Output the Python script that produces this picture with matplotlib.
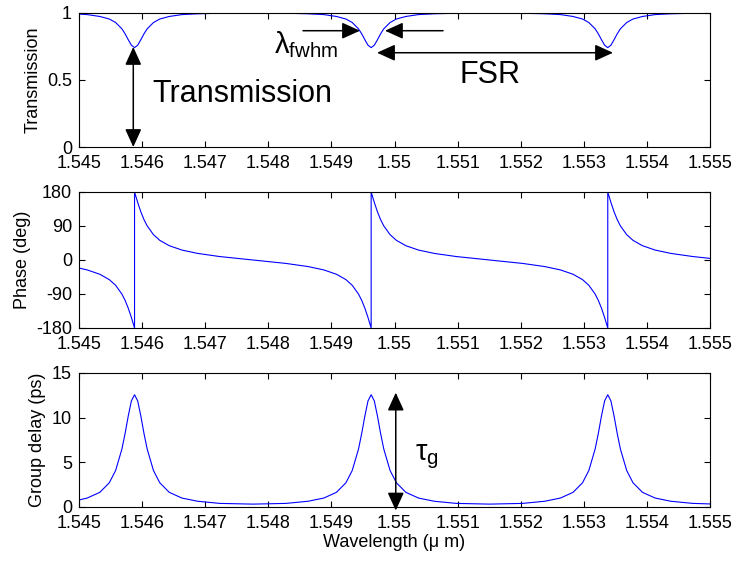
#!/usr/bin/env python3

import matplotlib
matplotlib.use("Agg")
import matplotlib.pyplot as plt


# wavelength samples (um), shared by transmission and group delay
WAVELENGTH = [
    1.54500, 1.54513, 1.54533, 1.54548, 1.54558, 1.54568, 1.54573, 1.54578,
    1.54583, 1.54588, 1.54593, 1.54598, 1.54603, 1.54608, 1.54618, 1.54628,
    1.54643, 1.54663, 1.54688, 1.54723, 1.547755,
    1.54828, 1.54863, 1.54888, 1.54908, 1.54923, 1.54933, 1.54943, 1.54948,
    1.54953, 1.54958, 1.54963, 1.54968, 1.54973, 1.54978, 1.54983, 1.54993,
    1.55003, 1.55018, 1.55038, 1.55063, 1.55098, 1.551505,
    1.55203, 1.55238, 1.55263, 1.55283, 1.55298, 1.55308, 1.55318, 1.55323,
    1.55328, 1.55333, 1.55338, 1.55343, 1.55348, 1.55353, 1.55358, 1.55368,
    1.55378, 1.55393, 1.55413, 1.55438, 1.55473, 1.55500,
]

TRANSMISSION = [
    0.990, 0.986, 0.972, 0.953, 0.927, 0.880, 0.843, 0.799,
    0.758, 0.740, 0.758, 0.799, 0.843, 0.880, 0.927, 0.953,
    0.972, 0.986, 0.992, 0.996, 0.998,
    0.996, 0.992, 0.986, 0.972, 0.953, 0.927, 0.880, 0.843,
    0.799, 0.758, 0.740, 0.758, 0.799, 0.843, 0.880, 0.927,
    0.953, 0.972, 0.986, 0.992, 0.996, 0.998,
    0.996, 0.992, 0.986, 0.972, 0.953, 0.927, 0.880, 0.843,
    0.799, 0.758, 0.740, 0.758, 0.799, 0.843, 0.880, 0.927,
    0.953, 0.972, 0.986, 0.992, 0.996, 0.998,
]

GROUP_DELAY = [
    0.78, 1.00, 1.64, 2.71, 4.08, 6.49, 8.22, 10.17,
    11.87, 12.56, 11.87, 10.17, 8.22, 6.49, 4.08, 2.71,
    1.64, 1.00, 0.64, 0.40, 0.32,
    0.40, 0.64, 1.00, 1.64, 2.71, 4.08, 6.49, 8.22,
    10.17, 11.87, 12.56, 11.87, 10.17, 8.22, 6.49, 4.08,
    2.71, 1.64, 1.00, 0.64, 0.40, 0.32,
    0.40, 0.64, 1.00, 1.64, 2.71, 4.08, 6.49, 8.22,
    10.17, 11.87, 12.56, 11.87, 10.17, 8.22, 6.49, 4.08,
    2.71, 1.64, 1.00, 0.64, 0.40, 0.34,
]

# phase has two samples at each resonance (the wrap from -180 to 180)
PHASE_WAVELENGTH = [
    1.54500, 1.54513, 1.54533, 1.54548, 1.54558, 1.54568, 1.54573, 1.54578,
    1.54583, 1.54588, 1.54588, 1.54593, 1.54598, 1.54603, 1.54608, 1.54618,
    1.54628, 1.54643, 1.54663, 1.54688, 1.54723, 1.547755,
    1.54828, 1.54863, 1.54888, 1.54908, 1.54923, 1.54933, 1.54943, 1.54948,
    1.54953, 1.54958, 1.54963, 1.54963, 1.54968, 1.54973, 1.54978, 1.54983,
    1.54993, 1.55003, 1.55018, 1.55038, 1.55063, 1.55098, 1.551505,
    1.55203, 1.55238, 1.55263, 1.55283, 1.55298, 1.55308, 1.55318, 1.55323,
    1.55328, 1.55333, 1.55338, 1.55338, 1.55343, 1.55348, 1.55353, 1.55358,
    1.55368, 1.55378, 1.55393, 1.55413, 1.55438, 1.55473, 1.55500,
]

PHASE = [
    -21.4, -26.3, -37.8, -52.0, -67.0, -90.3, -106.8, -127.4,
    -152.3, -180.0, 180.0, 152.3, 127.4, 106.8, 90.3, 67.0,
    52.0, 37.8, 26.3, 17.4, 9.1, 0.0,
    -9.1, -17.4, -26.3, -37.8, -52.0, -67.0, -90.3, -106.8,
    -127.4, -152.3, -180.0, 180.0, 152.3, 127.4, 106.8, 90.3,
    67.0, 52.0, 37.8, 26.3, 17.4, 9.1, 0.0,
    -9.1, -17.4, -26.3, -37.8, -52.0, -67.0, -90.3, -106.8,
    -127.4, -152.3, -180.0, 180.0, 152.3, 127.4, 106.8, 90.3,
    67.0, 52.0, 37.8, 26.3, 17.4, 9.1, 4.2,
]

X_TICKS = [1.545, 1.546, 1.547, 1.548, 1.549, 1.550,
           1.551, 1.552, 1.553, 1.554, 1.555]
X_TICK_LABELS = ["1.545", "1.546", "1.547", "1.548", "1.549", "1.55",
                 "1.551", "1.552", "1.553", "1.554", "1.555"]

TICK_FONT = 13
BIG_FONT = 22


def style_axes(ax, yticks, ylabel):
    ax.set_xlim(1.545, 1.555)
    ax.set_xticks(X_TICKS)
    ax.set_xticklabels(X_TICK_LABELS)
    ax.set_yticks(yticks)
    ax.set_ylim(yticks[0], yticks[-1])
    ax.set_ylabel(ylabel, fontsize=TICK_FONT, labelpad=4)
    ax.tick_params(direction="in", top=True, right=True, length=4.3,
                   width=0.8, labelsize=TICK_FONT)
    ax.tick_params(axis="x", pad=5.5)
    ax.tick_params(axis="y", pad=5)
    for s in ax.spines.values():
        s.set_linewidth(0.8)


def arrow(ax, tail, tip, both=False):
    style = "<|-|>" if both else "-|>"
    ax.annotate("", xy=tip, xytext=tail, annotation_clip=False,
                arrowprops=dict(arrowstyle=style + ",head_length=1.1,head_width=0.5",
                                color="k", lw=1.1, shrinkA=0, shrinkB=0,
                                mutation_scale=10))


if __name__ == "__main__":
    plt.rcParams["font.family"] = ["Liberation Sans", "DejaVu Sans"]
    plt.rcParams["mathtext.fontset"] = "custom"
    plt.rcParams["mathtext.rm"] = "Liberation Sans"
    plt.rcParams["mathtext.it"] = "Liberation Sans:italic"
    plt.rcParams["axes.unicode_minus"] = False

    fig = plt.figure(figsize=(7.33, 5.65), dpi=100)
    ax1 = fig.add_axes([0.1078, 0.7398, 0.8608, 0.2377])
    ax2 = fig.add_axes([0.1078, 0.4195, 0.8608, 0.2407])
    ax3 = fig.add_axes([0.1078, 0.1027, 0.8608, 0.2372])

    ax1.plot(WAVELENGTH, TRANSMISSION, color="blue", lw=0.8)
    style_axes(ax1, [0, 0.5, 1], "Transmission")
    ax1.set_yticklabels(["0", "0.5", "1"])

    ax2.plot(PHASE_WAVELENGTH, PHASE, color="blue", lw=0.8)
    style_axes(ax2, [-180, -90, 0, 90, 180], "Phase (deg)")

    ax3.plot(WAVELENGTH, GROUP_DELAY, color="blue", lw=0.8)
    style_axes(ax3, [0, 5, 10, 15], "Group delay (ps)")
    ax3.set_xlabel("Wavelength (\u03bc m)", fontsize=TICK_FONT, labelpad=2)

    # annotations on the transmission plot
    arrow(ax1, (1.54586, 0.0), (1.54586, 0.745), both=True)
    ax1.text(1.54616, 0.335, "Transmission", fontsize=BIG_FONT, va="baseline")
    arrow(ax1, (1.54855, 0.866), (1.549453, 0.866))
    arrow(ax1, (1.550769, 0.866), (1.549849, 0.866))
    ax1.text(1.54809, 0.70, r"$\mathrm{\lambda}_{\mathrm{fwhm}}$",
             fontsize=BIG_FONT - 1, va="baseline")
    arrow(ax1, (1.549723, 0.702), (1.553463, 0.702), both=True)
    ax1.text(1.551038, 0.477, "FSR", fontsize=BIG_FONT, va="baseline")

    # group delay annotation
    arrow(ax3, (1.55002, -0.4), (1.55002, 12.8), both=True)
    ax3.text(1.550325, 5.2, r"$\mathrm{\tau}_{\mathrm{g}}$",
             fontsize=BIG_FONT - 1, va="baseline")

    plt.savefig("out.png", dpi=100)
    plt.close(fig)
